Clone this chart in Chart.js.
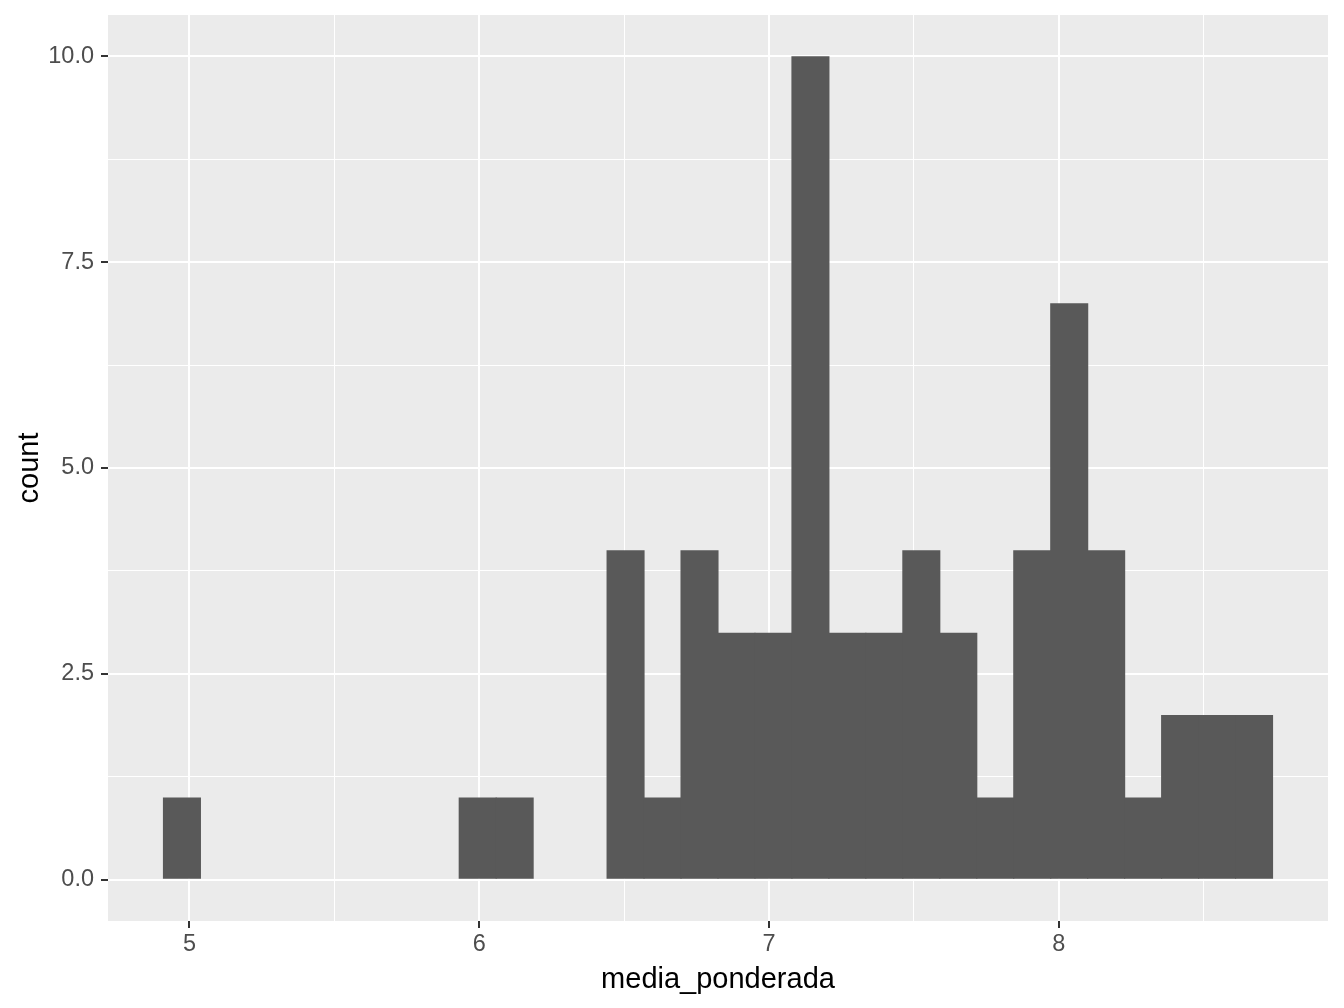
<!DOCTYPE html>
<html>
<head>
<meta charset="utf-8">
<title>media_ponderada histogram</title>
<script src="https://cdn.jsdelivr.net/npm/chart.js@4.4.1/dist/chart.umd.min.js"></script>
<style>
  html, body { margin: 0; padding: 0; background: #fff; }
  #wrap { width: 1344px; height: 1008px; }
</style>
</head>
<body>
<div id="wrap"><canvas id="histChart" width="1344" height="1008"></canvas></div>
<script>
// ---- data ----
const binCenters = [
  4.9740, 5.1016, 5.2292, 5.3568, 5.4843, 5.6119, 5.7395, 5.8671, 5.9947, 6.1223,
  6.2499, 6.3774, 6.5050, 6.6326, 6.7602, 6.8878, 7.0154, 7.1430, 7.2705, 7.3981,
  7.5257, 7.6533, 7.7809, 7.9085, 8.0361, 8.1636, 8.2912, 8.4188, 8.5464, 8.6740
];
const binCounts = [
  1, 0, 0, 0, 0, 0, 0, 0, 1, 1,
  0, 0, 4, 1, 4, 3, 3, 10, 3, 3,
  4, 3, 1, 4, 7, 4, 1, 2, 2, 2
];
const xTicks      = [5, 5.5, 6, 6.5, 7, 7.5, 8, 8.5];
const xMajorTicks = [5, 6, 7, 8];
const yTicks      = [0, 1.25, 2.5, 3.75, 5, 6.25, 7.5, 8.75, 10];
const yMajorTicks = [0, 2.5, 5, 7.5, 10];

const isMajor = (list, v) => list.some(m => Math.abs(m - v) < 1e-9);
const tickMajor = (list, c) => !!(c && c.tick) && isMajor(list, c.tick.value);

// grey panel behind the grid
const panelBg = {
  id: 'panelBg',
  beforeDraw(chart) {
    const a = chart.chartArea, c = chart.ctx;
    c.save();
    c.fillStyle = '#EBEBEB';
    c.fillRect(a.left, a.top, a.right - a.left, a.bottom - a.top);
    c.restore();
  }
};

Chart.defaults.font.family = '"Liberation Sans", Arial, sans-serif';

new Chart(document.getElementById('histChart'), {
  type: 'bar',
  data: {
    datasets: [{
      data: binCenters.map((x, i) => ({ x: x, y: binCounts[i] })),
      backgroundColor: '#595959',
      borderWidth: 0,
      barPercentage: 1.03,
      categoryPercentage: 1,
    }]
  },
  options: {
    responsive: false,
    animation: false,
    devicePixelRatio: 1,
    layout: { padding: { top: 15, right: 16, left: 0, bottom: 0 } },
    plugins: { legend: { display: false }, tooltip: { enabled: false } },
    scales: {
      x: {
        type: 'linear',
        offset: false,
        min: 4.7188,
        max: 8.9292,
        afterBuildTicks: s => { s.ticks = xTicks.map(v => ({ value: v })); },
        afterFit: s => { s.height = 87; s.paddingLeft = 0; s.paddingRight = 0; },
        border: { display: false },
        grid: {
          offset: false,
          color: '#FFFFFF',
          lineWidth: c => tickMajor(xMajorTicks, c) ? 2 : 1,
          tickColor: c => tickMajor(xMajorTicks, c) ? '#333333' : 'rgba(0,0,0,0)',
          tickWidth: 2,
          tickLength: 7,
        },
        ticks: {
          autoSkip: false,
          maxRotation: 0,
          padding: 2,
          color: '#4D4D4D',
          font: { size: 23.5 },
          callback: v => isMajor(xMajorTicks, v) ? String(v) : '',
        },
        title: {
          display: true,
          text: 'media_ponderada',
          color: '#000000',
          font: { size: 29 },
          padding: { top: 0, bottom: 11 },
        }
      },
      y: {
        min: -0.5,
        max: 10.5,
        afterBuildTicks: s => { s.ticks = yTicks.map(v => ({ value: v })); },
        afterFit: s => { s.width = 108; s.paddingTop = 0; s.paddingBottom = 0; },
        border: { display: false },
        grid: {
          color: '#FFFFFF',
          lineWidth: c => tickMajor(yMajorTicks, c) ? 2 : 1,
          tickColor: c => tickMajor(yMajorTicks, c) ? '#333333' : 'rgba(0,0,0,0)',
          tickWidth: 2,
          tickLength: 7,
        },
        ticks: {
          autoSkip: false,
          padding: 7,
          color: '#4D4D4D',
          font: { size: 23.5 },
          callback: v => isMajor(yMajorTicks, v) ? v.toFixed(1) : '',
        },
        title: {
          display: true,
          text: 'count',
          color: '#000000',
          font: { size: 29 },
          padding: { top: 13, bottom: 0 },
        }
      }
    }
  },
  plugins: [panelBg]
});
</script>
</body>
</html>
